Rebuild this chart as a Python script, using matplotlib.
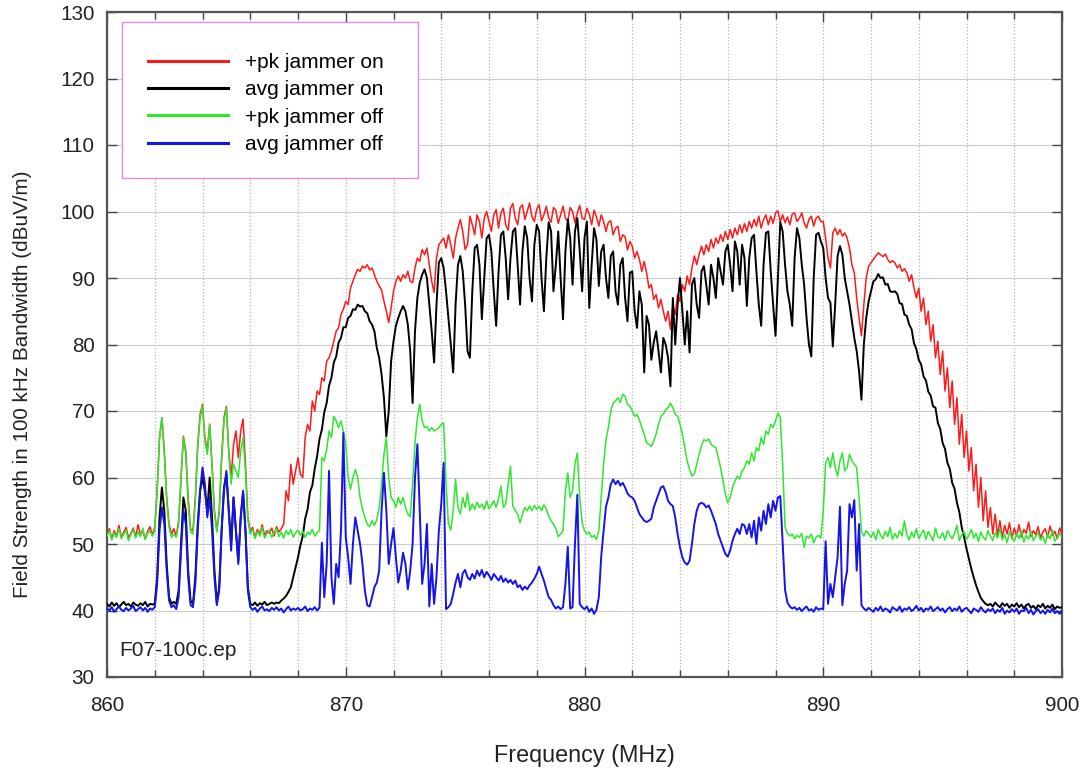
import numpy as np
import matplotlib
matplotlib.use('Agg')
import matplotlib.pyplot as plt
from matplotlib.ticker import MultipleLocator
from matplotlib.patches import Rectangle

# ---------------- data (dBuV/m), sampled every 0.1 MHz from 860 to 900 MHz ----------------
freq_start = 860.0
freq_step = 0.1

pk_on = [
    51.5, 52.3, 50.8, 52.0, 51.2, 52.8, 51.0, 51.8, 52.5, 50.9,   # 860
    51.6, 52.4, 51.1, 52.9, 51.4, 52.0, 50.7, 51.9, 52.6, 51.3,   # 861
    52.5, 58.0, 66.0, 69.0, 64.0, 57.0, 53.0, 51.5, 52.3, 51.2,   # 862
    53.5, 60.0, 66.2, 64.0, 57.0, 52.2, 52.0, 57.0, 65.0, 69.5,   # 863
    71.0, 66.0, 64.0, 68.0, 62.0, 55.0, 52.0, 55.0, 63.0, 69.0,   # 864
    70.7, 64.0, 60.0, 65.0, 67.0, 63.0, 67.0, 68.8, 62.0, 54.0,   # 865
    51.8, 52.5, 51.0, 52.2, 51.5, 52.9, 51.3, 52.0, 51.6, 52.4,   # 866
    51.2, 52.6, 51.8, 52.3, 53.0, 58.0, 56.5, 62.0, 59.0, 61.0,   # 867
    63.0, 60.5, 60.0, 66.0, 68.0, 67.0, 71.5, 70.0, 73.0, 72.5,   # 868
    75.0, 74.5, 77.5, 78.0, 79.0, 80.5, 82.0, 82.5, 84.5, 85.3,   # 869
    86.5, 86.0, 88.5, 89.5, 90.5, 91.3, 91.0, 91.8, 91.5, 92.0,   # 870
    91.2, 91.5, 90.5, 89.5, 88.8, 88.2, 86.5, 85.0, 83.3, 85.5,   # 871
    88.0, 89.5, 90.3, 89.5, 90.5, 90.0, 91.0, 89.5, 89.3, 91.5,   # 872
    93.0, 92.5, 94.3, 93.5, 94.5, 92.0, 89.5, 87.8, 93.0, 95.0,   # 873
    95.5, 96.0, 94.5, 96.5, 95.0, 93.0, 96.0, 97.5, 98.8, 97.0,   # 874
    94.3, 95.0, 99.3, 98.0, 96.5, 99.5, 98.5, 96.0, 99.0, 100.0,  # 875
    98.5, 97.0, 99.5, 100.3, 97.5, 99.8, 100.5, 98.0, 97.2, 100.5,  # 876
    101.2, 99.0, 98.0, 100.6, 101.0, 98.8, 100.0, 101.3, 99.2, 98.5,  # 877
    100.4, 101.0, 98.6, 99.5, 100.8, 99.0, 98.4, 100.6, 100.2, 98.2,  # 878
    99.5, 100.8, 99.0, 98.5, 100.6, 100.0, 98.3, 99.8, 100.9, 99.0,  # 879
    98.8, 100.5, 99.6, 98.0, 100.2, 99.2, 97.8, 99.5, 98.5, 97.0,   # 880
    98.4, 98.6, 96.5, 97.5, 97.8, 95.5, 96.5, 96.2, 94.2, 95.5,   # 881
    94.8, 93.0, 94.0, 92.8, 91.0, 92.5, 90.8, 88.5, 89.0, 86.8,   # 882
    87.5, 85.5, 86.8, 85.0, 83.5, 85.0, 82.3, 86.0, 84.5, 87.5,   # 883
    86.5, 89.0, 88.0, 90.3, 89.0, 91.5, 93.3, 92.0, 93.5, 94.8,   # 884
    93.5, 95.0, 94.0, 95.8, 94.5, 96.0, 95.2, 96.5, 95.5, 97.0,   # 885
    95.8, 97.3, 96.0, 97.5, 96.5, 98.0, 96.8, 98.2, 97.0, 98.5,   # 886
    97.5, 98.8, 97.8, 99.3, 97.5, 98.8, 99.5, 98.0, 99.3, 98.2,   # 887
    99.8, 100.1, 98.5, 99.5, 98.3, 99.2, 98.0, 99.6, 99.8, 98.5,  # 888
    99.0, 99.8, 98.3, 97.5, 98.8, 99.3, 97.8, 99.0, 99.3, 98.5,   # 889
    98.5, 96.0, 93.0, 91.5, 96.8, 97.5, 96.5, 97.3, 96.3, 96.8,   # 890
    96.0, 94.5, 92.0, 90.8, 87.0, 84.0, 81.3, 86.0, 90.0, 91.8,   # 891
    92.3, 92.8, 93.3, 93.8, 93.5, 93.2, 93.6, 92.8, 92.3, 92.6,   # 892
    92.3, 91.5, 92.0, 91.0, 91.4, 90.8, 89.5, 90.5, 88.5, 87.0,   # 893
    88.5, 85.0, 87.0, 83.0, 85.0, 80.5, 83.0, 78.0, 80.5, 75.5,   # 894
    79.0, 73.0, 76.5, 70.5, 74.5, 68.0, 72.0, 65.0, 69.5, 63.0,   # 895
    67.0, 61.0, 64.5, 58.0, 62.0, 55.5, 60.0, 53.5, 58.0, 52.5,   # 896
    55.5, 51.5, 54.5, 51.2, 53.5, 51.0, 52.8, 51.5, 53.2, 50.8,   # 897
    52.4, 51.2, 52.9, 51.0, 52.2, 51.6, 53.3, 51.1, 52.0, 51.4,   # 898
    52.6, 50.9, 51.8, 52.3, 51.0, 52.7, 51.3, 51.9, 50.8, 52.4,   # 899
    51.5,                                                         # 900
]

avg_on = [
    41.0, 40.6, 41.2, 40.7, 41.1, 40.5, 40.9, 41.3, 40.8, 41.0,   # 860
    40.6, 41.2, 40.9, 40.7, 41.1, 40.8, 41.3, 40.6, 41.0, 40.9,   # 861
    41.0, 45.0, 54.0, 58.5, 55.0, 47.0, 42.0, 41.0, 41.3, 41.0,   # 862
    43.0, 50.0, 57.0, 55.0, 46.0, 41.5, 41.0, 45.0, 53.0, 58.0,   # 863
    60.0, 58.0, 55.0, 60.0, 54.0, 46.0, 41.2, 43.5, 52.0, 58.5,   # 864
    60.5, 55.0, 50.0, 57.0, 52.0, 47.5, 54.0, 57.8, 52.0, 43.5,   # 865
    41.0, 40.8, 41.2, 40.7, 41.1, 40.9, 41.3, 40.8, 41.0, 41.2,   # 866
    41.0, 41.2, 41.1, 41.5, 41.8, 42.2, 42.8, 43.5, 45.0, 46.5,   # 867
    48.0, 49.8, 51.2, 53.8, 55.2, 57.8, 58.8, 61.3, 63.2, 65.8,   # 868
    67.2, 69.8, 71.2, 73.8, 75.0, 77.3, 78.2, 80.3, 81.0, 82.6,   # 869
    82.6, 84.0, 84.3, 85.3, 85.2, 86.0, 85.7, 85.8, 85.0, 84.7,   # 870
    83.5, 83.0, 82.0, 79.5, 78.0, 75.5, 72.0, 66.2, 70.0, 77.5,   # 871
    80.5, 82.8, 84.0, 85.0, 85.8, 85.0, 83.0, 79.0, 71.2, 82.0,   # 872
    87.0, 89.3, 90.5, 91.3, 90.0, 86.0, 82.0, 77.3, 86.0, 92.3,   # 873
    93.0, 91.5, 88.0, 84.0, 80.0, 75.8, 86.0, 92.0, 93.3, 91.0,   # 874
    86.0, 79.0, 78.0, 88.0, 94.5, 95.0, 92.0, 83.8, 90.0, 96.0,   # 875
    96.5, 94.0, 88.0, 82.8, 91.0, 96.5, 97.0, 93.0, 86.8, 93.0,   # 876
    97.0, 97.5, 92.0, 86.0, 94.0, 97.8, 96.0, 90.0, 86.5, 95.0,   # 877
    98.0, 97.0, 90.0, 85.0, 93.0, 98.4, 97.0, 88.0, 92.0, 97.0,   # 878
    90.0, 83.8, 94.0, 98.8, 96.0, 89.0, 97.0, 99.0, 94.0, 88.0,   # 879
    96.0, 98.5, 85.5, 92.0, 97.5, 95.8, 88.8, 94.0, 95.0, 90.0,   # 880
    87.0, 93.3, 94.0, 88.0, 86.0, 92.0, 93.0, 87.0, 83.5, 90.8,   # 881
    91.0, 85.0, 82.5, 88.0, 86.0, 75.8, 84.3, 83.0, 77.7, 80.3,   # 882
    82.0, 79.0, 75.8, 81.0, 80.0, 78.0, 73.7, 87.0, 80.0, 86.0,   # 883
    90.0, 85.0, 80.0, 85.0, 78.8, 89.0, 90.0, 86.0, 84.0, 91.0,   # 884
    91.8, 89.0, 86.0, 92.0, 90.0, 87.0, 93.0, 91.0, 89.0, 94.0,   # 885
    95.0, 92.0, 88.0, 95.5, 94.0, 89.0, 95.0, 93.0, 85.8, 93.0,   # 886
    96.0, 96.5, 91.0, 86.0, 82.8, 92.0, 96.8, 97.0, 91.0, 86.0,   # 887
    81.3, 90.0, 98.4, 97.0, 92.0, 88.0, 86.0, 82.8, 93.0, 97.5,   # 888
    96.0, 92.0, 89.0, 84.0, 80.0, 78.2, 90.0, 96.5, 96.8, 95.5,   # 889
    94.5, 90.0, 87.0, 86.3, 79.7, 86.0, 93.3, 94.8, 93.5, 90.0,   # 890
    88.0, 86.0, 83.5, 81.0, 79.0, 76.0, 71.7, 80.0, 84.0, 86.5,   # 891
    88.0, 89.5, 89.8, 90.6, 90.0, 90.1, 89.0, 89.1, 88.0, 87.9,   # 892
    88.0, 87.6, 86.2, 86.1, 84.5, 84.3, 83.0, 82.3, 80.2, 79.3,   # 893
    77.7, 77.0, 75.2, 74.6, 72.9, 72.3, 70.7, 70.5, 68.2, 67.3,   # 894
    65.2, 64.3, 62.2, 61.3, 59.2, 58.3, 56.2, 54.8, 52.5, 51.0,   # 895
    49.3, 47.8, 46.3, 45.0, 43.8, 42.8, 41.9, 41.4, 41.0, 40.8,   # 896
    41.0, 40.6, 41.2, 40.8, 40.5, 41.1, 40.7, 41.0, 40.4, 40.9,   # 897
    40.6, 41.1, 40.5, 40.9, 40.3, 40.8, 41.0, 40.4, 40.7, 40.2,   # 898
    40.8, 40.5, 41.0, 40.3, 40.7, 40.4, 40.9, 40.2, 40.6, 40.4,   # 899
    40.5,                                                         # 900
]

pk_off = [
    51.2, 52.0, 50.6, 51.7, 51.0, 52.3, 50.8, 51.5, 52.1, 50.5,   # 860
    51.4, 52.2, 50.9, 51.8, 51.1, 52.4, 50.7, 51.6, 52.0, 51.2,   # 861
    52.0, 58.0, 66.0, 69.0, 63.5, 56.5, 52.5, 51.0, 51.5, 51.0,   # 862
    53.0, 60.0, 66.0, 63.5, 56.0, 51.8, 51.5, 56.5, 64.5, 69.0,   # 863
    70.8, 65.5, 63.5, 68.0, 61.5, 54.5, 51.8, 54.5, 62.5, 68.5,   # 864
    70.5, 63.5, 59.0, 62.0, 61.0, 60.0, 64.0, 66.0, 61.0, 53.5,   # 865
    51.5, 52.2, 50.8, 51.9, 51.2, 52.5, 50.9, 51.6, 52.1, 51.0,   # 866
    51.7, 52.3, 51.1, 51.8, 50.9, 52.0, 51.4, 52.2, 51.0, 51.7,   # 867
    52.1, 51.3, 51.9, 51.0, 51.8, 51.4, 52.2, 51.2, 51.7, 52.0,   # 868
    63.0, 62.5, 64.2, 67.0, 66.0, 69.2, 68.5, 67.5, 68.5, 67.0,   # 869
    65.0, 60.0, 58.2, 60.0, 61.2, 60.0, 57.0, 55.2, 54.0, 53.0,   # 870
    52.6, 53.5, 52.8, 53.6, 55.5, 59.0, 63.5, 66.0, 60.0, 57.0,   # 871
    56.5, 55.5, 57.0, 56.0, 57.0, 55.5, 54.5, 54.1, 59.0, 65.2,   # 872
    69.0, 71.0, 68.5, 67.5, 67.7, 67.0, 67.5, 67.0, 67.2, 67.5,   # 873
    68.0, 68.2, 59.2, 53.0, 52.1, 55.0, 59.7, 55.5, 54.5, 57.0,   # 874
    55.5, 57.7, 55.0, 56.0, 55.2, 56.3, 55.5, 56.0, 55.2, 56.5,   # 875
    55.3, 55.8, 56.5, 55.5, 56.8, 58.7, 55.5, 56.0, 59.0, 61.7,   # 876
    55.7, 55.0, 54.5, 53.2, 54.5, 55.5, 55.0, 55.7, 55.0, 55.8,   # 877
    55.2, 55.7, 55.0, 55.9, 55.3, 54.2, 53.5, 53.0, 52.3, 51.1,   # 878
    51.5, 52.0, 58.0, 60.7, 57.0, 58.0, 62.0, 63.7, 57.0, 53.2,   # 879
    52.0, 51.5, 51.8, 51.0, 51.3, 50.7, 52.0, 57.0, 62.0, 65.7,   # 880
    67.5, 70.0, 71.2, 71.5, 72.0, 71.3, 72.5, 72.2, 71.0, 70.7,   # 881
    70.0, 69.2, 69.5, 68.7, 67.5, 66.5, 65.2, 65.0, 64.7, 65.5,   # 882
    66.5, 68.0, 69.2, 69.5, 70.2, 70.5, 71.2, 70.5, 69.5, 69.2,   # 883
    68.0, 66.5, 64.5, 62.5, 61.2, 60.2, 60.5, 62.0, 63.5, 64.8,   # 884
    65.7, 65.5, 65.8, 65.0, 64.7, 64.5, 63.0, 61.5, 59.5, 57.5,   # 885
    56.2, 57.0, 58.5, 59.5, 60.2, 59.8, 61.0, 61.5, 62.5, 62.0,   # 886
    63.7, 62.5, 64.5, 64.0, 66.0, 65.0, 67.0, 66.5, 68.0, 67.5,   # 887
    68.5, 69.7, 69.0, 62.0, 52.5, 51.6, 51.2, 51.5, 50.8, 51.3,   # 888
    51.0, 51.6, 49.5, 51.2, 50.9, 51.5, 50.2, 51.0, 51.3, 50.9,   # 889
    55.0, 62.2, 63.0, 61.5, 63.7, 61.5, 60.2, 62.5, 63.7, 61.0,   # 890
    61.5, 63.5, 62.5, 62.0, 61.5, 57.0, 51.8, 51.2, 52.0, 51.5,   # 891
    51.0, 51.8, 50.6, 52.2, 51.3, 50.8, 51.9, 51.1, 52.5, 50.7,   # 892
    51.6, 50.9, 52.0, 51.2, 53.5, 51.4, 50.6, 51.8, 51.0, 52.3,   # 893
    50.8, 51.5, 52.1, 50.7, 51.9, 51.2, 50.5, 52.4, 51.1, 50.9,   # 894
    51.7, 50.6, 52.0, 51.3, 50.8, 51.6, 52.8, 50.5, 51.4, 51.9,   # 895
    50.7, 51.3, 52.2, 50.9, 51.6, 50.4, 51.8, 51.0, 50.6, 52.0,   # 896
    51.2, 50.5, 51.7, 50.9, 52.3, 50.6, 51.4, 50.2, 51.8, 51.0,   # 897
    50.4, 51.6, 50.8, 52.0, 50.3, 51.3, 50.7, 51.9, 50.5, 51.1,   # 898
    51.7, 50.6, 51.2, 50.1, 51.5, 50.8, 52.1, 50.4, 51.0, 51.6,   # 899
    51.0,                                                         # 900
]

avg_off = [
    40.3, 40.0, 40.5, 39.8, 40.2, 40.6, 40.1, 39.9, 40.4, 40.0,   # 860
    40.3, 40.7, 39.9, 40.2, 40.5, 40.0, 40.4, 39.8, 40.3, 40.1,   # 861
    40.5, 44.0, 52.0, 55.5, 53.0, 46.0, 41.5, 40.5, 40.8, 40.2,   # 862
    42.0, 49.0, 55.0, 53.0, 45.0, 40.8, 40.5, 44.0, 52.0, 58.0,   # 863
    61.5, 59.0, 54.0, 57.0, 52.0, 45.0, 40.8, 43.0, 52.0, 58.0,   # 864
    61.0, 55.0, 49.0, 57.0, 52.0, 47.0, 54.0, 58.0, 52.0, 43.0,   # 865
    40.5, 40.1, 40.4, 39.8, 40.3, 40.6, 40.0, 40.2, 39.9, 40.4,   # 866
    40.1, 40.5, 40.0, 40.3, 39.7, 40.2, 40.6, 40.0, 40.3, 40.1,   # 867
    40.4, 40.0, 40.2, 40.6, 39.9, 40.3, 40.1, 40.5, 40.0, 40.4,   # 868
    50.2, 42.0, 47.0, 61.0, 45.0, 41.0, 47.0, 45.0, 52.0, 66.7,   # 869
    51.0, 48.0, 44.0, 50.0, 54.0, 52.0, 50.0, 47.0, 43.0, 40.8,   # 870
    40.6, 42.0, 43.5, 44.2, 46.0, 55.0, 60.7, 55.0, 47.0, 50.0,   # 871
    52.4, 48.0, 44.2, 46.0, 48.7, 47.0, 43.2, 46.0, 50.0, 60.0,   # 872
    65.0, 55.0, 44.0, 47.0, 53.0, 40.6, 47.0, 41.0, 45.0, 52.0,   # 873
    56.0, 62.2, 40.2, 40.5, 41.0, 42.5, 44.2, 45.5, 43.5, 45.6,   # 874
    46.1, 45.0, 44.6, 45.5, 44.8, 46.0, 45.2, 46.1, 45.0, 45.8,   # 875
    45.3, 44.6, 45.5, 45.0, 44.5, 45.2, 44.3, 44.8, 44.2, 44.6,   # 876
    44.0, 44.5, 43.5, 43.8, 43.1, 43.6, 43.2, 43.8, 44.2, 44.8,   # 877
    45.5, 46.6, 45.5, 44.5, 43.2, 42.0, 41.6, 40.8, 40.3, 40.6,   # 878
    40.2, 40.5, 44.0, 49.6, 40.3, 40.5, 50.0, 57.4, 41.0, 40.5,   # 879
    40.2, 40.6, 39.8, 40.3, 39.5, 40.1, 42.0, 48.1, 52.0, 55.6,   # 880
    57.0, 59.0, 59.7, 59.0, 59.5, 58.8, 59.2, 58.5, 57.6, 57.2,   # 881
    57.0, 56.5, 55.5, 54.5, 54.0, 53.5, 53.3, 53.5, 53.8, 55.5,   # 882
    56.5, 57.5, 58.5, 58.7, 57.8, 56.5, 56.0, 55.7, 54.0, 51.5,   # 883
    49.5, 48.0, 47.2, 46.9, 47.5, 50.0, 53.0, 55.0, 56.0, 56.2,   # 884
    56.0, 55.5, 55.8, 55.0, 54.0, 53.0, 51.5, 50.5, 49.5, 48.5,   # 885
    48.1, 49.0, 50.5, 51.5, 52.3, 51.5, 53.0, 52.8, 51.5, 53.0,   # 886
    51.0, 53.5, 50.0, 54.0, 52.0, 55.0, 53.0, 56.0, 54.0, 56.5,   # 887
    55.0, 57.0, 57.2, 50.0, 43.1, 41.2, 40.6, 40.3, 40.5, 40.1,   # 888
    40.4, 39.9, 40.3, 40.6, 40.0, 40.2, 39.8, 40.5, 40.1, 40.3,   # 889
    40.2, 50.4, 41.0, 44.0, 42.0, 45.0, 48.0, 55.6, 40.8, 44.0,   # 890
    46.0, 56.0, 54.0, 56.6, 46.0, 53.0, 40.8, 40.3, 40.0, 40.4,   # 891
    40.1, 39.8, 40.4, 40.0, 40.6, 39.9, 40.3, 40.1, 39.7, 40.5,   # 892
    40.2, 40.0, 40.6, 39.8, 40.3, 40.1, 40.5, 39.9, 40.2, 40.7,   # 893
    40.0, 40.4, 39.8, 40.3, 40.1, 40.6, 39.9, 40.2, 40.5, 40.0,   # 894
    40.3, 39.7, 40.2, 40.5, 39.9, 40.3, 40.0, 40.6, 39.8, 40.2,   # 895
    40.4, 40.0, 39.6, 40.3, 40.1, 39.8, 40.5, 40.0, 39.7, 40.2,   # 896
    39.9, 40.3, 39.6, 40.1, 39.8, 40.4, 39.5, 40.0, 39.7, 40.2,   # 897
    39.8, 40.3, 39.5, 40.0, 39.9, 40.4, 39.6, 40.1, 39.4, 39.9,   # 898
    40.2, 39.6, 40.0, 39.5, 40.1, 39.7, 40.3, 39.6, 39.9, 39.5,   # 899
    40.0,                                                         # 900
]

labels = ['+pk jammer on', 'avg jammer on', '+pk jammer off', 'avg jammer off']
colors = ['#ff1a1a', '#000000', '#2ee82e', '#1414e8']
x_ticks = [860, 870, 880, 890, 900]
y_ticks = [30, 40, 50, 60, 70, 80, 90, 100, 110, 120, 130]

for s in (pk_on, avg_on, pk_off, avg_off):
    assert len(s) == 401, len(s)

freq = np.round(freq_start + freq_step * np.arange(len(pk_on)), 2)

plt.rcParams['font.family'] = ['Liberation Sans', 'DejaVu Sans']
fig = plt.figure(figsize=(10.86, 7.76), dpi=100)
ax = fig.add_axes([107 / 1086, 1 - 677 / 776, 955 / 1086, 665 / 776])

widths = [1.1, 1.4, 1.1, 1.4]
for series, lab, col, lw in zip((pk_on, avg_on, pk_off, avg_off), labels, colors, widths):
    ax.plot(freq, series, color=col, lw=lw, label=lab, zorder=3)

ax.set_xlim(860, 900)
ax.set_ylim(30, 130)
ax.set_xticks(x_ticks)
ax.set_yticks(y_ticks)
ax.xaxis.set_minor_locator(MultipleLocator(2))

ax.grid(which='both', axis='x', color='#b5b5b5', linestyle=':', lw=0.9)
ax.grid(which='major', axis='y', color='#cccccc', linestyle='-', lw=0.8)
ax.set_axisbelow(True)

ax.tick_params(which='both', direction='in', top=True, right=True, width=1.0, colors='#444444',
               labelcolor='#222222', labelsize=14.9)
ax.tick_params(which='major', length=7)
ax.tick_params(which='minor', length=5)
ax.tick_params(axis='x', pad=14)
ax.tick_params(axis='y', pad=9)
for sp in ax.spines.values():
    sp.set_linewidth(1.6)
    sp.set_color('#555555')

ax.set_ylabel('Field Strength in 100 kHz Bandwidth (dBuV/m)', fontsize=14.9, color='#222222')
ax.yaxis.set_label_coords((32 - 107) / 955, (677 - 384) / 665)
ax.set_xlabel('Frequency (MHz)', fontsize=16.8, color='#222222')
ax.xaxis.set_label_coords(0.5, (677 - 744) / 665)

ax.add_patch(Rectangle((15 / 955, (677 - 178) / 665), 296 / 955, 156 / 665,
                       transform=ax.transAxes, facecolor='white', edgecolor='#e28ae2',
                       lw=1.0, zorder=4))
leg = ax.legend(loc='upper left', bbox_to_anchor=(41 / 955, (677 - 53) / 665), frameon=False,
                fontsize=15, handlelength=3.85, handletextpad=0.8, labelspacing=0.4,
                borderpad=0, borderaxespad=0)
leg.set_zorder(5)
for h in leg.get_lines():
    h.set_linewidth(2.2)

ax.text(12 / 955, 27 / 665, 'F07-100c.ep', fontsize=15, color='#222222', ha='left', va='center',
        transform=ax.transAxes)

fig.savefig('out.png', dpi=100)
